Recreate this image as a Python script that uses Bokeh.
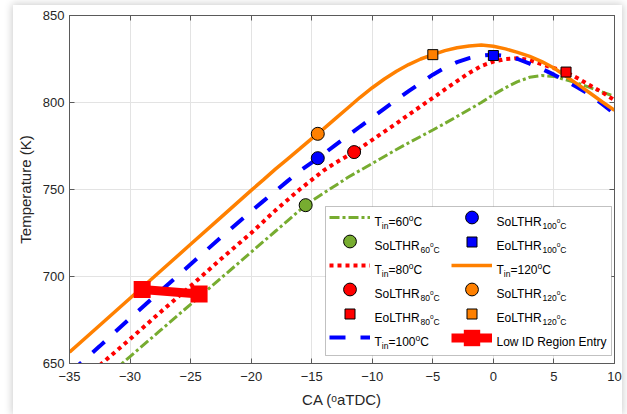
from bokeh.plotting import figure
from bokeh.layouts import column
from bokeh.models import (Range1d, LinearAxis, FixedTicker, Legend, LegendItem,
                          Label, BoxAnnotation)
from bokeh.embed import file_html
from bokeh.resources import INLINE

# ---- data -------------------------------------------------------------
ca = [-35, -32.5, -30, -27.5, -25, -22.5, -20, -19, -18, -17, -16, -15, -14, -13,
      -12, -11, -10, -9, -8, -7, -6, -5, -4, -3, -2, -1, 0, 1, 2, 3, 4, 5, 6, 7, 8, 9, 10]

t_in60 = [623, 639, 654, 669, 684, 699, 714, 720, 726, 732, 738, 743.5, 748, 752.5,
          757, 761, 765, 769, 773, 776.8, 780.5, 784.2, 788, 792, 796, 800, 804.5,
          808.5, 812, 814.5, 815.5, 815, 813, 811, 808.5, 806, 803.5]
t_in80 = [634, 649, 664, 679.5, 694.5, 710, 725, 731.5, 738, 744, 750, 755.5, 761, 765.5,
          769.5, 773.8, 778.5, 783.3, 788, 793, 797.8, 802.6, 807.5, 812.3, 817, 821, 823.5,
          825, 825.5, 824.3, 822, 819.8, 817.5, 813.8, 809.8, 805.8, 801.3]
t_in100 = [644.5, 660, 676, 691.5, 707, 722.5, 737.5, 743.3, 749, 754.8, 760.5, 765.5, 770.5,
           775.8, 781, 786.2, 791.3, 796.5, 801.5, 806.5, 811.3, 816, 820, 823.2, 825.5, 827,
           827.5, 826.8, 825, 822.3, 819.3, 816, 812.3, 808.5, 804.3, 799, 793.5]
t_in120 = [656.5, 672, 687.5, 703, 718.5, 734, 749.5, 755.5, 761.7, 767.5, 773.3, 779.2, 785,
           791, 797, 803, 808.5, 813.5, 818, 821.8, 825, 827.5, 829.8, 831.5, 832.5, 833,
           832.3, 830.8, 828.8, 826.5, 823.5, 819.8, 815, 810.3, 805.3, 800.3, 795.5]

# start / end of low-temperature heat release (CA, T)
sol_60 = ([-15.5], [741])
sol_80 = ([-11.5], [771.5])
sol_100 = ([-14.5], [768])
sol_120 = ([-14.5], [782])
eol_80 = ([6], [817.5])
eol_100 = ([0], [827])
eol_120 = ([-5], [827.5])

# low ignition-delay region entry
low_id_ca = [-29, -24.3]
low_id_t = [692.5, 690]

x_ticks = [-35, -30, -25, -20, -15, -10, -5, 0, 5, 10]
y_ticks = [650, 700, 750, 800, 850]

# ---- styling ----------------------------------------------------------
GREEN = "#77AC30"
RED = "#FF0000"
BLUE = "#0000FF"
ORANGE = "#FF8000"
FRAME = "#5a5a5a"
FONT = "Liberation Sans"
SHADOW = "0 0 8px 1px rgba(0,0,0,0.2)"

p = figure(width=609, height=409,
           x_range=Range1d(-35, 10), y_range=Range1d(650, 850),
           output_backend="svg", toolbar_location=None,
           min_border_left=53, min_border_right=8,
           min_border_top=10, min_border_bottom=51,
           background_fill_color="white", border_fill_color="white")

p.xaxis.ticker = FixedTicker(ticks=x_ticks)
p.yaxis.ticker = FixedTicker(ticks=y_ticks)
p.xaxis.axis_label = "CA (\u1d52aTDC)"
p.yaxis.axis_label = "Temperature (K)"

for ax in p.axis:
    ax.axis_line_color = FRAME
    ax.major_tick_line_color = FRAME
    ax.major_tick_in = 5
    ax.major_tick_out = 0
    ax.minor_tick_line_color = None
    ax.major_label_text_font = FONT
    ax.major_label_text_font_size = "13px"
    ax.major_label_text_color = "#262626"
    ax.axis_label_text_font = FONT
    ax.axis_label_text_font_size = "15px"
    ax.axis_label_text_font_style = "normal"
    ax.axis_label_text_color = "#262626"
p.xaxis.major_label_standoff = 8
p.xaxis.axis_label_standoff = 7
p.yaxis.major_label_standoff = 5
p.yaxis.axis_label_standoff = 6

# mirrored ticks on the top and right edges of the box
for loc, rng_ticks in (("above", x_ticks), ("right", y_ticks)):
    mirror = LinearAxis(ticker=FixedTicker(ticks=rng_ticks),
                        axis_line_color=FRAME, major_tick_line_color=FRAME,
                        major_tick_in=5, major_tick_out=0,
                        minor_tick_line_color=None,
                        major_label_text_color=None, major_label_standoff=0)
    p.add_layout(mirror, loc)

p.outline_line_color = FRAME
p.grid.grid_line_color = "#e3e3e3"
p.grid.grid_line_width = 1

# ---- curves -----------------------------------------------------------
r60 = p.line(ca, t_in60, line_color=GREEN, line_width=3, line_dash="10 3 3 3")
r80 = p.line(ca, t_in80, line_color=RED, line_width=4, line_dash="4 4")
r100 = p.line(ca, t_in100, line_color=BLUE, line_width=4, line_dash="16 15")
r120 = p.line(ca, t_in120, line_color=ORANGE, line_width=3.5)

r_low_line = p.line(low_id_ca, low_id_t, line_color=RED, line_width=9)
r_low_pts = p.scatter(low_id_ca, low_id_t, marker="square", size=17,
                      fill_color=RED, line_color=None)


def markers(pts, shape, color, size):
    return p.scatter(pts[0], pts[1], marker=shape, size=size, fill_color=color,
                     line_color="black", line_width=1)


s60 = markers(sol_60, "circle", GREEN, 13)
s80 = markers(sol_80, "circle", RED, 13)
s100 = markers(sol_100, "circle", BLUE, 13)
s120 = markers(sol_120, "circle", ORANGE, 13)
e80 = markers(eol_80, "square", RED, 10)
e100 = markers(eol_100, "square", BLUE, 10)
e120 = markers(eol_120, "square", ORANGE, 10)

# ---- legend -----------------------------------------------------------
# frame-relative pixel geometry of the legend box
BOX_L, BOX_R, BOX_B, BOX_T = 256, 542, 8, 157
p.add_layout(BoxAnnotation(left=BOX_L, right=BOX_R, bottom=BOX_B, top=BOX_T,
                           left_units="screen", right_units="screen",
                           bottom_units="screen", top_units="screen",
                           fill_color="white", fill_alpha=1,
                           line_color="#333333", line_width=1))

ROW0_CENTER = 146    # centre of the first legend row, above the frame bottom
ROW_STEP = 24
COL_X = (260, 382)   # left end of the legend glyphs in each column

# one single-entry legend per row, so each sample gets its own marker size
rows = [
    (0, 0, [r60], 30), (0, 1, [s60], 32), (0, 2, [r80], 30),
    (0, 3, [s80], 32), (0, 4, [e80], 25), (0, 5, [r100], 30),
    (1, 0, [s100], 32), (1, 1, [e100], 25), (1, 2, [r120], 30),
    (1, 3, [s120], 32), (1, 4, [e120], 25), (1, 5, [r_low_line, r_low_pts], 43),
]
for col, row, rends, gh in rows:
    centre = ROW0_CENTER - ROW_STEP * row
    leg = Legend(items=[LegendItem(label=" ", renderers=rends)],
                 location=(COL_X[col], centre - gh / 2.0),
                 padding=0, spacing=0, glyph_width=41, glyph_height=gh,
                 label_standoff=4, label_width=10, label_height=10,
                 label_text_font_size="10px",
                 border_line_color=None, background_fill_alpha=0)
    p.add_layout(leg)

# label texts with sub/superscripts, laid out piece by piece
ARIAL = {"T": 611, "i": 222, "n": 556, "=": 584, "o": 556, "C": 722, "S": 667,
         "L": 556, "H": 722, "R": 722, "E": 667, " ": 278}
for d in "0123456789":
    ARIAL[d] = 556


def width(s, size):
    return sum(ARIAL.get(c, 556) for c in s) * size / 1000.0


def rich(pieces, x0, baseline):
    x = x0
    for txt, size, dy in pieces:
        p.add_layout(Label(x=x, y=baseline - dy, x_units="screen", y_units="screen",
                           text=txt, text_font=FONT, text_font_size=f"{size}px",
                           text_baseline="alphabetic", text_align="left",
                           text_color="black"))
        x += width(txt, size)


def t_label(v):
    return [("T", 12, 0), ("in", 8.5, 4), (f"={v}", 12, 0), ("o", 8.5, -3.5), ("C", 12, 0)]


def sub_label(prefix, v):
    return [(prefix, 12, 0), (v, 8.5, 4), ("o", 6.5, -1.5), ("C", 8.5, 4)]


col1 = [t_label("60"), sub_label("SoLTHR", "60"), t_label("80"),
        sub_label("SoLTHR", "80"), sub_label("EoLTHR", "80"), t_label("100")]
col2 = [sub_label("SoLTHR", "100"), sub_label("EoLTHR", "100"), t_label("120"),
        sub_label("SoLTHR", "120"), sub_label("EoLTHR", "120"),
        [("Low ID Region Entry", 12, 0)]]

ROW0_BASE = ROW0_CENTER - 4.3
for i, pieces in enumerate(col1):
    rich(pieces, COL_X[0] + 45, ROW0_BASE - ROW_STEP * i)
for i, pieces in enumerate(col2):
    rich(pieces, COL_X[1] + 45, ROW0_BASE - ROW_STEP * i)

# the chart sits on a white card with a soft drop shadow
page = column(p, margin=(5, 5, 0, 13), styles={"box-shadow": SHADOW})

open("out.html", "w").write(file_html(page, INLINE))
